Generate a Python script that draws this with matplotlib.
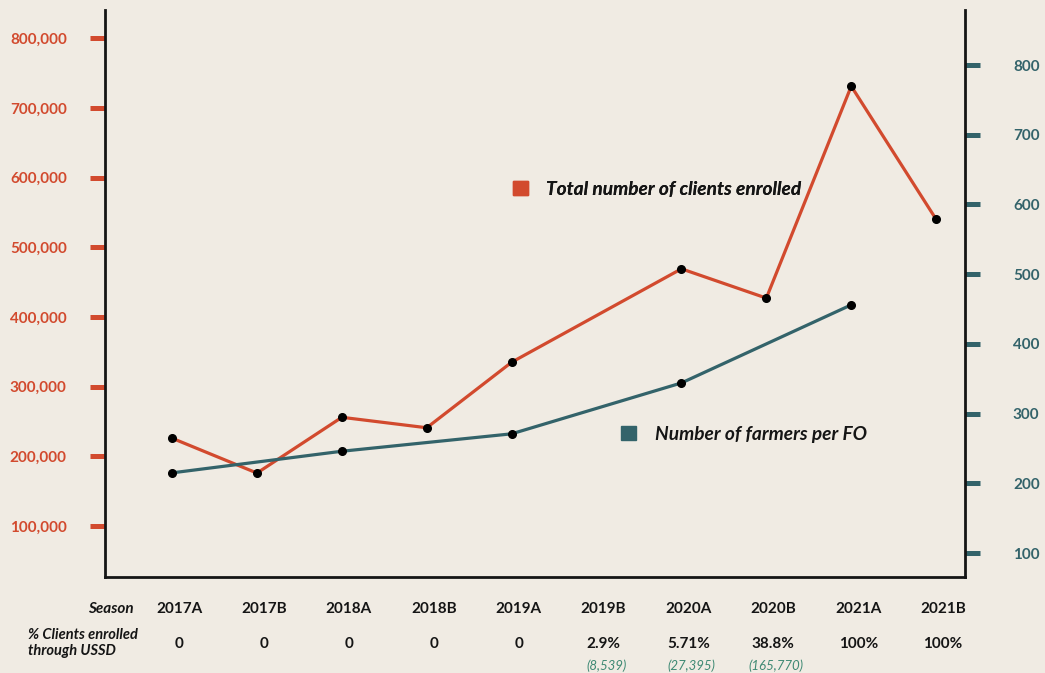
import numpy as np
import matplotlib
matplotlib.use('Agg')
import matplotlib.pyplot as plt
from matplotlib.patches import Patch
from matplotlib.ticker import FuncFormatter

# data
seasons = ['2017A', '2017B', '2018A', '2018B', '2019A', '2019B', '2020A', '2020B', '2021A', '2021B']
clients = [226000, 176000, 256000, 241000, 335000, None, 469000, 427000, 731000, 540000]
farmers_per_fo = [215, None, 246, None, 271, None, 344, None, 456, None]
ussd_pct = ['0', '0', '0', '0', '0', '2.9%', '5.71%', '38.8%', '100%', '100%']
ussd_count = ['', '', '', '', '', '(8,539)', '(27,395)', '(165,770)', '', '']
left_ticks = [100000, 200000, 300000, 400000, 500000, 600000, 700000, 800000]
right_ticks = [100, 200, 300, 400, 500, 600, 700, 800]

bg = '#f0ebe3'
orange = '#d24a2e'
teal = '#33636a'
green = '#3f8a74'
ink = '#151515'

plt.rcParams['font.family'] = ['Lato', 'DejaVu Sans']

fig = plt.figure(figsize=(10.45, 6.73), dpi=100, facecolor=bg)
ax = fig.add_axes([105 / 1045, 1 - 577 / 673, 860 / 1045, 567 / 673])
ax.set_facecolor(bg)
ax2 = ax.twinx()

x = np.arange(len(seasons))
cx = [i for i, v in zip(x, clients) if v is not None]
cy = [v for v in clients if v is not None]
fx = [i for i, v in zip(x, farmers_per_fo) if v is not None]
fy = [v for v in farmers_per_fo if v is not None]

ax.plot(cx, cy, color=orange, lw=2.3, zorder=3)
ax.plot(cx, cy, 'o', color='black', ms=5.5, zorder=4)
ax2.plot(fx, fy, color=teal, lw=2.3, zorder=3)
ax2.plot(fx, fy, 'o', color='black', ms=5.5, zorder=4)

ax.set_xlim(-0.79, 9.34)
ax.set_ylim(26900, 840300)
ax2.set_ylim(65.6, 879)

ax.set_yticks(left_ticks)
ax.yaxis.set_major_formatter(FuncFormatter(lambda v, p: f'{v:,.0f}'))
ax2.set_yticks(right_ticks)
ax.set_xticks([])

ax.tick_params(axis='y', colors=orange, length=10.5, width=3.6, pad=17, labelsize=11)
ax2.tick_params(axis='y', colors=teal, length=10.5, width=3.6, pad=24, labelsize=11)
for lab in ax.get_yticklabels():
    lab.set_fontweight('bold')
for lab in ax2.get_yticklabels():
    lab.set_fontweight('bold')

for s in ['top', 'right']:
    ax.spines[s].set_visible(False)
for s in ['top', 'left', 'bottom']:
    ax2.spines[s].set_visible(False)
for sp in [ax.spines['left'], ax.spines['bottom'], ax2.spines['right']]:
    sp.set_color(ink)
    sp.set_linewidth(2)

# legends as labels inside the plot
leg1 = ax.legend(handles=[Patch(color=orange, label='Total number of clients enrolled')],
                 loc='center left', bbox_to_anchor=(0.474, 0.684), frameon=False,
                 borderaxespad=0, borderpad=0, handlelength=0.8, handleheight=0.8,
                 handletextpad=0.95, prop={'weight': 'bold', 'style': 'italic', 'size': 13.8})
ax.add_artist(leg1)
leg2 = ax2.legend(handles=[Patch(color=teal, label='Number of farmers per FO')],
                  loc='center left', bbox_to_anchor=(0.6, 0.252), frameon=False,
                  borderaxespad=0, borderpad=0, handlelength=0.8, handleheight=0.8,
                  handletextpad=0.95, prop={'weight': 'bold', 'style': 'italic', 'size': 13.8})
for t in leg1.get_texts() + leg2.get_texts():
    t.set_color(ink)

# table underneath
fig.text(134 / 1045, 1 - 609 / 673, 'Season', ha='right', va='center', fontsize=11,
         fontweight='bold', fontstyle='italic', color=ink)
fig.text(28 / 1045, 1 - 643 / 673, '% Clients enrolled\nthrough USSD', ha='left', va='center',
         fontsize=10.5, fontweight='bold', fontstyle='italic', color=ink, linespacing=1.15)
for i, s in enumerate(seasons):
    ax.annotate(s, xy=(i, 1 - 609 / 673), xycoords=('data', 'figure fraction'),
                xytext=(5, 0), textcoords='offset points', ha='center', va='center',
                fontsize=11, fontweight='bold', color=ink, annotation_clip=False)
    ax.annotate(ussd_pct[i], xy=(i, 1 - 644 / 673), xycoords=('data', 'figure fraction'),
                xytext=(5, 0), textcoords='offset points', ha='center', va='center',
                fontsize=11, fontweight='bold', color=ink, annotation_clip=False)
    if ussd_count[i]:
        ax.annotate(ussd_count[i], xy=(i, 1 - 666 / 673), xycoords=('data', 'figure fraction'),
                    xytext=(7, 0), textcoords='offset points', ha='center', va='center',
                    fontsize=9.5, fontstyle='italic', color=green, annotation_clip=False)

fig.savefig('out.png', dpi=100, facecolor=bg)
